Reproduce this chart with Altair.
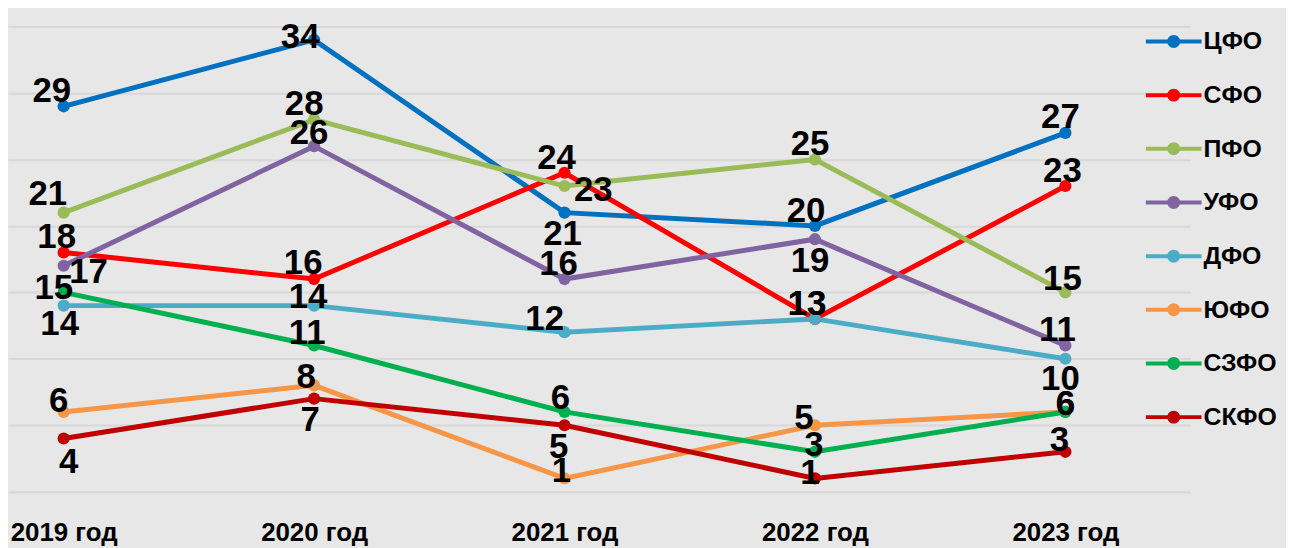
import json
import altair as alt
import pandas as pd

# ---- data ----
years = ["2019 год", "2020 год", "2021 год", "2022 год", "2023 год"]
regions = ["ЦФО", "СФО", "ПФО", "УФО", "ДФО", "ЮФО", "СЗФО", "СКФО"]
colors = ["#0070C0", "#FF0000", "#9BBB59", "#8064A2", "#4BACC6", "#F79646", "#00B050", "#C00000"]

cfo = [29, 34, 21, 20, 27]
sfo = [18, 16, 24, 13, 23]
pfo = [21, 28, 23, 25, 15]
ufo = [17, 26, 16, 19, 11]
dfo = [14, 14, 12, 13, 10]
yufo = [6, 8, 1, 5, 6]
szfo = [15, 11, 6, 3, 6]
skfo = [4, 7, 5, 1, 3]
series_values = [cfo, sfo, pfo, ufo, dfo, yufo, szfo, skfo]

# data-label placement (pixel offsets from each point)
label_dx = [
    [-12, -14, -2, -9, -5],
    [-7, -11, -8, -8, -3],
    [-16, -10, 29, -5, -3],
    [25, -5, -6, -5, -8],
    [-4, -6, -20, -8, -5],
    [-5, -8, -3, -11, 0],
    [-10, -7, -4, -1, 0],
    [5, -4, -6, -5, -6],
]
label_dy = [
    [-17, -5, 20, -17, -18],
    [-18, -18, -17, -17, -17],
    [-21, -18, 2, -17, -15],
    [4, -15, -17, 20, -18],
    [17, -11, -15, -17, 18],
    [-13, -10, -9, -9, -10],
    [-6, -15, -16, -9, -10],
    [22, 20, 20, -7, -14],
]

rows = []
for s, (name, vals) in enumerate(zip(regions, series_values)):
    for i, v in enumerate(vals):
        rows.append({"region": name, "order": s, "i": i, "year": years[i], "value": v,
                     "dx": label_dx[s][i], "dy": label_dy[s][i] + 2})
df = pd.DataFrame(rows)

FONT = "Liberation Sans, Arial, sans-serif"
BG = "#e7e7e7"

x_enc = alt.X(
    "i:Q",
    scale=alt.Scale(domain=[-0.2222, 4.5], nice=False, zero=False),
    axis=alt.Axis(
        values=[0, 1, 2, 3, 4],
        labelExpr=json.dumps(years, ensure_ascii=False) + "[datum.value]",
        title=None, grid=False, ticks=False, domain=False,
        labelFont=FONT, labelFontSize=26, labelFontWeight="bold", labelColor="black",
        labelPadding=28, labelFlush=False, labelOverlap=False,
    ),
)
y_enc = alt.Y(
    "value:Q",
    scale=alt.Scale(domain=[0, 35], nice=False),
    axis=alt.Axis(values=[0, 5, 10, 15, 20, 25, 30, 35], title=None, labels=False,
                  ticks=False, domain=False, grid=True, gridColor="#d8d8d8", gridWidth=2),
)
color_scale = alt.Scale(domain=regions, range=colors)

base = alt.Chart(df)

lines = base.mark_line(strokeWidth=5).encode(
    x=x_enc, y=y_enc,
    color=alt.Color("region:N", scale=color_scale, legend=None),
    order=alt.Order("i:Q"),
)

sym = ("M-1.047,-0.075L1.047,-0.075L1.047,0.075L-1.047,0.075Z "
       "M0.243,0A0.243,0.243 0 1,1 -0.243,0A0.243,0.243 0 1,1 0.243,0Z")

points = base.mark_point(filled=True, size=150, opacity=1).encode(
    x=x_enc, y=y_enc,
    color=alt.Color(
        "region:N", scale=color_scale,
        legend=alt.Legend(
            title=None, orient="none", legendX=1146, legendY=-12,
            symbolType=sym, symbolSize=2862, symbolStrokeWidth=0, symbolOpacity=1,
            labelFont=FONT, labelFontSize=25, labelFontWeight="bold", labelColor="black",
            labelOffset=3, rowPadding=14, padding=0, labelLimit=200,
        ),
    ),
)

labels = base.mark_text(font=FONT, fontSize=35, fontWeight="bold", color="black",
                        baseline="middle", align="center",
                        dx=alt.expr("datum.dx"), dy=alt.expr("datum.dy")).encode(
    x=x_enc, y=y_enc,
    text=alt.Text("value:Q"),
)

chart = alt.layer(lines, points, labels).resolve_legend(color="independent").properties(
    width=1190, height=468,
    autosize="none",
    padding={"left": 0, "top": 17, "right": 96, "bottom": 55},
    background=BG,
).configure_view(stroke=None, fill=BG)

chart.save("out.html", embed_options={"renderer": "svg", "actions": False})
